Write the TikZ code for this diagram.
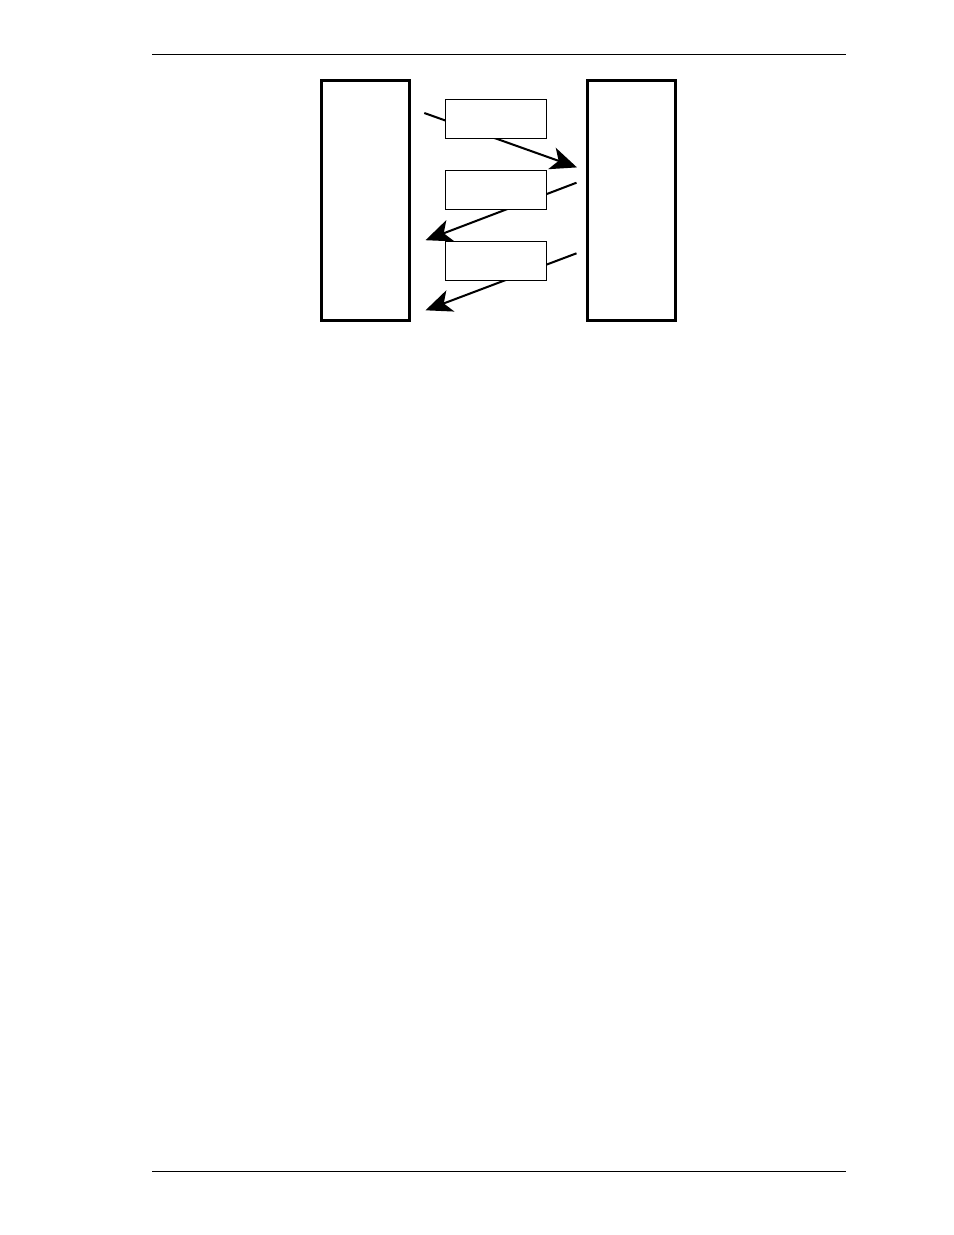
\documentclass[tikz,border=0pt]{standalone}
\usepackage{tikz}
\usetikzlibrary{arrows.meta}

\tikzset{
  host/.style={draw, line width=1.9pt, fill=white, inner sep=0pt, minimum width=56.5pt, minimum height=154pt},
  msgbox/.style={draw, line width=0.8pt, fill=white, inner sep=0pt, minimum width=64.8pt, minimum height=25pt},
  msgarrow/.style={line width=1.3pt, -{Stealth[length=17pt, width=14.5pt, inset=4.5pt]}},
  pagerule/.style={line width=0.9pt}
}

\begin{document}
\begin{tikzpicture}[x=0.6415pt,y=0.6415pt,yscale=-1,xscale=1]
\useasboundingbox (0,0) rectangle (954,1235);

% page rules
\coordinate (topL) at (152,54.3);
\coordinate (topR) at (846,54.3);
\coordinate (botL) at (152,1171.3);
\coordinate (botR) at (846,1171.3);
\draw [pagerule] (topL) -- (topR);
\draw [pagerule] (botL) -- (botR);

% arrow ends
\coordinate (s1) at (424.3,113);
\coordinate (e1) at (577,167.4);
\coordinate (s2) at (576.5,182.7);
\coordinate (e2) at (425.5,240.2);
\coordinate (s3) at (576.5,253.3);
\coordinate (e3) at (425.5,310.3);

% Arrows
\draw [msgarrow] (s1) -- (e1);
\draw [msgarrow] (s2) -- (e2);
\draw [msgarrow] (s3) -- (e3);

% Hosts
\node [host] (lefthost) at (365.3,200.5) {};
\node [host] (righthost) at (631.7,200.5) {};

% Message boxes
\node [msgbox] (msgA) at (496.3,119.3) {};
\node [msgbox] (msgB) at (496.3,190.3) {};
\node [msgbox] (msgC) at (496.3,260.7) {};

\end{tikzpicture}
\end{document}
